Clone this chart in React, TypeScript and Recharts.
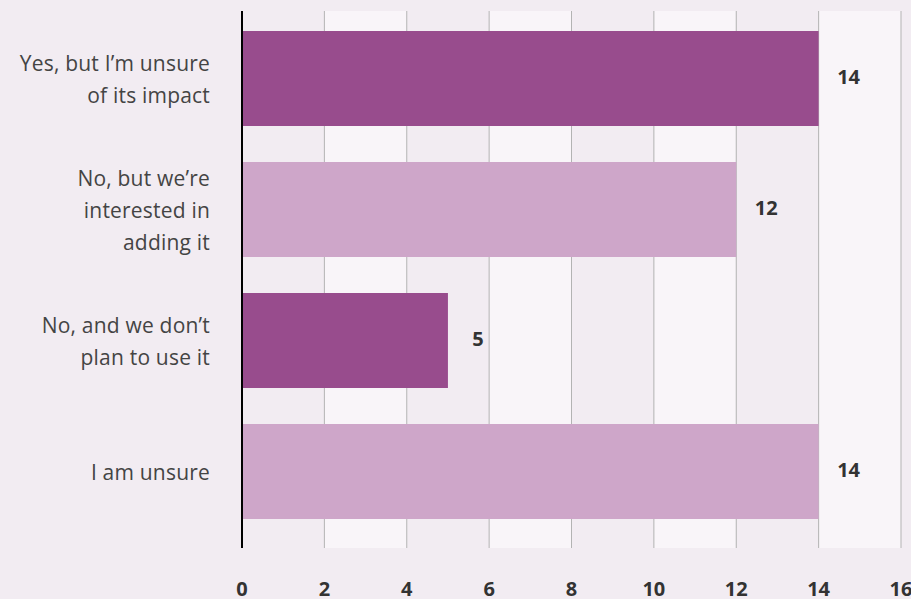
import React from "react";
import { BarChart, Bar, XAxis, YAxis, CartesianGrid, Cell, LabelList } from "recharts";

const categories = [
  "Yes, but I’m unsure\nof its impact",
  "No, but we’re\ninterested in\nadding it",
  "No, and we don’t\nplan to use it",
  "I am unsure",
];
const values = [14, 12, 5, 14];
const barColors = ["#984c8d", "#cea6c9", "#984c8d", "#cea6c9"];
const xTicks = [0, 2, 4, 6, 8, 10, 12, 14, 16];

const data = categories.map((c, i) => ({ name: c, value: values[i] }));

const FONT = "'Open Sans', 'Noto Sans', sans-serif";

const YTick = (props: any) => {
  const { x, y, payload } = props;
  const lines = String(payload.value).split("\n");
  const lh = 32;
  const start = -((lines.length - 1) / 2) * lh;
  return (
    <g>
      {lines.map((l: string, i: number) => (
        <text
          key={i}
          x={x}
          y={y + start + i * lh}
          textAnchor="end"
          dominantBaseline="central"
          fill="#444"
          fontSize={21}
          letterSpacing={0.2}
          fontFamily={FONT}
        >
          {l}
        </text>
      ))}
    </g>
  );
};

const ValueLabel = (props: any) => {
  const { x, y, width, height, value } = props;
  return (
    <text
      x={x + width + 30}
      y={y + height / 2 - 2}
      textAnchor="middle"
      dominantBaseline="central"
      fill="#333"
      fontSize={20}
      fontWeight={700}
      fontFamily={FONT}
    >
      {value}
    </text>
  );
};

export default function App() {
  return (
    <div
      style={{
        position: "absolute",
        left: 0,
        top: 0,
        width: 911,
        height: 599,
        background: "#f2ecf2",
      }}
    >
      <BarChart
        width={911}
        height={599}
        data={data}
        layout="vertical"
        margin={{ top: 11, right: 10, bottom: 0, left: 0 }}
      >
        <CartesianGrid
          horizontal={false}
          vertical={true}
          stroke="#b3b3b3"
          verticalFill={["#f2ecf2", "#f9f5f9"]}
          fillOpacity={1}
        />
        <XAxis
          type="number"
          domain={[0, 16]}
          ticks={xTicks}
          axisLine={false}
          tickLine={false}
          tickSize={0}
          tickMargin={34}
          height={51}
          interval={0}
          tick={{ fill: "#333", fontSize: 20, fontWeight: 700, fontFamily: FONT }}
        />
        <YAxis
          type="category"
          dataKey="name"
          width={242}
          axisLine={{ stroke: "#000", strokeWidth: 2 }}
          tickLine={false}
          tickSize={0}
          tickMargin={32}
          padding={{ top: 2, bottom: 11 }}
          interval={0}
          tick={<YTick />}
        />
        <Bar dataKey="value" barSize={95} isAnimationActive={false}>
          {data.map((d, i) => (
            <Cell key={i} fill={barColors[i]} />
          ))}
          <LabelList dataKey="value" content={<ValueLabel />} />
        </Bar>
      </BarChart>
    </div>
  );
}
